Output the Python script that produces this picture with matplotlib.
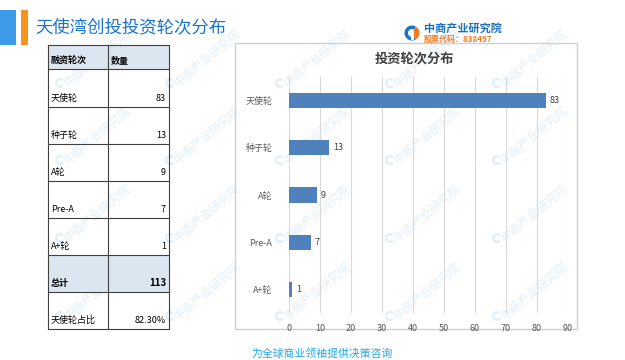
import matplotlib
matplotlib.use("Agg")
import matplotlib.pyplot as plt
from matplotlib.patches import Rectangle, Wedge

plt.rcParams['font.family'] = ['Noto Sans CJK SC', 'DejaVu Sans']

# data
rounds = ["天使轮", "种子轮", "A轮", "Pre-A", "A+轮"]
counts = [83, 13, 9, 7, 1]
total_label = "总计"
total = 113
share_label = "天使轮占比"
share = "82.30%"

W, H = 625, 360
fig = plt.figure(figsize=(W / 100, H / 100), dpi=100)

# overlay in pixel coords
ov = fig.add_axes([0, 0, 1, 1])
ov.set_xlim(0, W)
ov.set_ylim(H, 0)
ov.axis("off")

# faint watermarks
for wx in [60, 170, 280, 390, 497]:
    for wy in [83, 160, 238, 316]:
        ov.add_patch(Wedge((wx, wy), 5, 40, 320, width=2.2, color="#cfe3f3", lw=0, alpha=0.6))
        ov.text(wx + 6, wy + 1, "中商产业研究院", color="#cfe3f3", alpha=0.6, fontsize=8.5,
                rotation=40, rotation_mode="anchor", ha="left", va="center", zorder=0)

# header decoration
ov.add_patch(Rectangle((0, 10), 16, 35, color="#3d9be9", lw=0))
ov.add_patch(Rectangle((21, 10), 7, 35, color="#f7941d", lw=0))
ov.text(35, 28, "天使湾创投投资轮次分布", color="#1a73d0", fontsize=12.5,
        va="center", ha="left")

# logo
ov.add_patch(Wedge((412, 33), 7.5, 60, 300, width=3.5, color="#1a73c8", lw=0))
ov.add_patch(Wedge((412, 33), 7.5, 300, 60, width=7.5, color="#f07a22", lw=0))
ov.add_patch(Rectangle((411, 31), 2.5, 9, color="white", lw=0))
ov.text(424, 28, "中商产业研究院", color="#1a6fc0", fontsize=8, fontweight="bold",
        va="center", ha="left")
ov.text(424, 39.5, "股票代码：838497", color="#f07a22", fontsize=5.8, fontweight="bold",
        va="center", ha="left")

# table
rows_y = [45, 69, 107, 144, 181, 218, 255, 292, 329]
x0, xm, x1 = 48, 108, 169
ov.add_patch(Rectangle((x0, rows_y[0]), x1 - x0, rows_y[1] - rows_y[0],
                       facecolor="#dce6f1", edgecolor="none"))
ov.add_patch(Rectangle((x0, rows_y[6]), x1 - x0, rows_y[7] - rows_y[6],
                       facecolor="#dce6f1", edgecolor="none"))
for y in rows_y:
    ov.plot([x0, x1], [y, y], color="#404040", lw=0.8)
for x in [x0, xm, x1]:
    ov.plot([x, x], [rows_y[0], rows_y[-1]], color="#404040", lw=0.8)

cells = [("融资轮次", "数量")] + [(r, str(c)) for r, c in zip(rounds, counts)] \
    + [(total_label, str(total)), (share_label, share)]
for i, (a, b) in enumerate(cells):
    yb = rows_y[i + 1] - 4
    bold = i == 0 or i == 6
    ov.text(x0 + 3, yb, a, fontsize=6.5, color="#000000", va="bottom", ha="left",
            fontweight="bold" if bold else "normal")
    if i == 0:
        ov.text(xm + 3, yb, b, fontsize=6.5, va="bottom", ha="left", fontweight="bold")
    else:
        ov.text(x1 - 3, yb, b, fontsize=7 if i == 6 else 6.5, va="bottom", ha="right",
                fontweight="bold" if bold else "normal")

# chart box and title
ov.add_patch(Rectangle((235, 43), 342, 286, facecolor="none", edgecolor="#d0d0d0", lw=1))
ov.text(414, 59, "投资轮次分布", fontsize=9.5, fontweight="bold", color="#404040",
        ha="center", va="center")

# footer
ov.text(322, 353, "为全球商业领袖提供决策咨询", fontsize=7.8, color="#22a7f0",
        style="italic", ha="center", va="center")

# bar chart
ax = fig.add_axes([289 / W, 1 - 313 / H, (568 - 289) / W, (313 - 77) / H])
ypos = list(range(len(rounds)))
ax.barh(ypos, counts, height=0.32, color="#4f81bd", zorder=3)
ax.set_ylim(len(rounds) - 0.5, -0.5)
ax.set_xlim(0, 90)
ax.set_xticks(range(0, 91, 10))
ax.set_yticks(ypos)
ax.set_yticklabels(rounds)
ax.grid(axis="x", color="#d9d9d9", lw=0.8, zorder=0)
for s in ax.spines.values():
    s.set_visible(False)
ax.tick_params(length=0, labelsize=6.5, colors="#595959", pad=8)
ax.tick_params(axis="y", pad=12)
for y, v in zip(ypos, counts):
    ax.text(v + 1.2, y, str(v), va="center", ha="left", fontsize=6.5, color="#404040")
ax.patch.set_alpha(0)

fig.savefig("out.png", dpi=100)
